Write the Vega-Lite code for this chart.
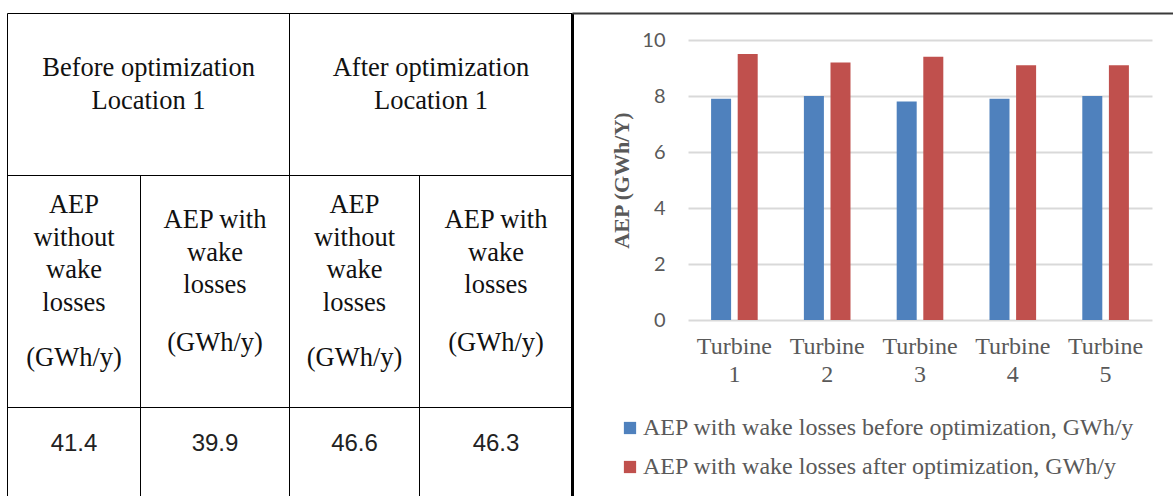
{
  "$schema": "https://vega.github.io/schema/vega-lite/v6.json",
  "width": 1173,
  "height": 496,
  "autosize": "none",
  "padding": 0,
  "background": "white",
  "config": {"view": {"stroke": null}},
  "datasets": {
    "grid": [
      {"x0": 0, "x1": 4, "y0": 0, "y1": 0},
      {"x0": 0, "x1": 4, "y0": 1, "y1": 1},
      {"x0": 0, "x1": 4, "y0": 2, "y1": 2},
      {"x0": 0, "x1": 0, "y0": 0, "y1": 3},
      {"x0": 1, "x1": 1, "y0": 1, "y1": 3},
      {"x0": 2, "x1": 2, "y0": 0, "y1": 3},
      {"x0": 3, "x1": 3, "y0": 1, "y1": 3}
    ],
    "frame": [
      {"x0": 4, "x1": 4, "y0": 0, "y1": 3}
    ],
    "chartframe": [
      {"x0": 4, "x1": 5, "y0": 0, "y1": 0}
    ],
    "headers": [
      {"text": "Before optimization\nLocation 1", "col": 1.054, "row": 0.338},
      {"text": "After optimization\nLocation 1", "col": 3.075, "row": 0.338},
      {"text": "AEP\nwithout\nwake\nlosses", "col": 0.5, "row": 1.127},
      {"text": "(GWh/y)", "col": 0.5, "row": 1.787},
      {"text": "AEP with\nwake\nlosses", "col": 1.5, "row": 1.192},
      {"text": "(GWh/y)", "col": 1.5, "row": 1.722},
      {"text": "AEP\nwithout\nwake\nlosses", "col": 2.5, "row": 1.127},
      {"text": "(GWh/y)", "col": 2.5, "row": 1.787},
      {"text": "AEP with\nwake\nlosses", "col": 3.5, "row": 1.192},
      {"text": "(GWh/y)", "col": 3.5, "row": 1.722}
    ],
    "totals": [
      {"value": "41.4", "col": 0.5, "row": 2.416},
      {"value": "39.9", "col": 1.5, "row": 2.416},
      {"value": "46.6", "col": 2.5, "row": 2.416},
      {"value": "46.3", "col": 3.5, "row": 2.416}
    ],
    "turbines": [
      {"turbine": "Turbine 1", "series": "AEP with wake losses before optimization, GWh/y", "aep": 7.9},
      {"turbine": "Turbine 1", "series": "AEP with wake losses after optimization, GWh/y", "aep": 9.5},
      {"turbine": "Turbine 2", "series": "AEP with wake losses before optimization, GWh/y", "aep": 8.0},
      {"turbine": "Turbine 2", "series": "AEP with wake losses after optimization, GWh/y", "aep": 9.2},
      {"turbine": "Turbine 3", "series": "AEP with wake losses before optimization, GWh/y", "aep": 7.8},
      {"turbine": "Turbine 3", "series": "AEP with wake losses after optimization, GWh/y", "aep": 9.4},
      {"turbine": "Turbine 4", "series": "AEP with wake losses before optimization, GWh/y", "aep": 7.9},
      {"turbine": "Turbine 4", "series": "AEP with wake losses after optimization, GWh/y", "aep": 9.1},
      {"turbine": "Turbine 5", "series": "AEP with wake losses before optimization, GWh/y", "aep": 8.0},
      {"turbine": "Turbine 5", "series": "AEP with wake losses after optimization, GWh/y", "aep": 9.1}
    ]
  },
  "layer": [
    {
      "layer": [
        {
          "data": {"name": "grid"},
          "mark": {"type": "rule", "color": "#000000", "strokeWidth": 1},
          "encoding": {
            "x": {"field": "x0", "type": "quantitative", "scale": {"domain": [0, 1, 2, 3, 4, 5], "range": [7.5, 140.5, 289.5, 419.5, 572.5, 1173], "nice": false, "zero": false}, "axis": null},
            "x2": {"field": "x1"},
            "y": {"field": "y0", "type": "quantitative", "scale": {"domain": [0, 1, 2, 3], "range": [13.5, 175.5, 407.5, 496], "nice": false, "zero": false}, "axis": null},
            "y2": {"field": "y1"}
          }
        },
        {
          "data": {"name": "frame"},
          "mark": {"type": "rule", "color": "#000000", "strokeWidth": 3},
          "encoding": {
            "x": {"field": "x0", "type": "quantitative", "axis": null},
            "x2": {"field": "x1"},
            "y": {"field": "y0", "type": "quantitative", "axis": null},
            "y2": {"field": "y1"}
          }
        },
        {
          "data": {"name": "chartframe"},
          "mark": {"type": "rule", "color": "#3a3a3a", "strokeWidth": 2},
          "encoding": {
            "x": {"field": "x0", "type": "quantitative", "axis": null},
            "x2": {"field": "x1"},
            "y": {"field": "y0", "type": "quantitative", "axis": null},
            "y2": {"field": "y1"}
          }
        },
        {
          "data": {"name": "headers"},
          "mark": {"type": "text", "font": "Liberation Serif", "fontSize": 26.5, "lineBreak": "\n", "lineHeight": 32.7, "baseline": "middle", "align": "center", "color": "#111111"},
          "encoding": {
            "x": {"field": "col", "type": "quantitative", "axis": null},
            "y": {"field": "row", "type": "quantitative", "axis": null},
            "text": {"field": "text", "type": "nominal"}
          }
        },
        {
          "data": {"name": "totals"},
          "mark": {"type": "text", "font": "Liberation Sans", "fontSize": 24, "baseline": "middle", "align": "center", "color": "#222222"},
          "encoding": {
            "x": {"field": "col", "type": "quantitative", "axis": null},
            "y": {"field": "row", "type": "quantitative", "axis": null},
            "text": {"field": "value", "type": "nominal"}
          }
        }
      ]
    },
    {
      "data": {"name": "turbines"},
      "mark": {"type": "bar"},
      "encoding": {
        "x": {
          "field": "turbine", "type": "nominal", "sort": null,
          "scale": {"range": [688, 1152], "paddingInner": 0, "paddingOuter": 0},
          "axis": {"orient": "bottom", "offset": -176, "title": null, "labelExpr": "split(datum.label, ' ')", "labelAngle": 0, "domain": false, "ticks": false, "tickSize": 0, "grid": false, "labelPadding": 14, "labelFont": "Liberation Serif", "labelFontSize": 24, "labelColor": "#595959", "labelLineHeight": 28.5}
        },
        "xOffset": {"field": "series", "type": "nominal", "sort": null, "scale": {"domain": ["AEP with wake losses before optimization, GWh/y", "AEP with wake losses after optimization, GWh/y"], "paddingInner": 0.248, "paddingOuter": 0.868}},
        "y": {
          "field": "aep", "type": "quantitative",
          "scale": {"domain": [0, 10], "range": [320, 40], "nice": false, "zero": true},
          "axis": {"orient": "left", "offset": -688, "values": [0, 2, 4, 6, 8, 10], "grid": true, "gridColor": "#d9d9d9", "gridWidth": 2, "domain": false, "ticks": false, "tickSize": 0, "labelPadding": 23, "labelFont": "Lato", "labelFontSize": 20, "labelColor": "#595959", "title": "AEP (GWh/Y)", "titleFont": "Liberation Serif", "titleFontSize": 22, "titleFontWeight": "bold", "titleColor": "#595959", "titlePadding": 8}
        },
        "color": {
          "field": "series", "type": "nominal", "sort": null,
          "scale": {"domain": ["AEP with wake losses before optimization, GWh/y", "AEP with wake losses after optimization, GWh/y"], "range": ["#4f81bd", "#c0504d"]},
          "legend": {"orient": "none", "legendX": 618, "legendY": 416, "title": null, "symbolType": "square", "symbolSize": 150, "symbolStrokeWidth": 0, "labelFont": "Liberation Serif", "labelFontSize": 24, "labelColor": "#595959", "labelOffset": 1, "rowPadding": 15, "padding": 0, "labelLimit": 600}
        }
      }
    }
  ],
  "resolve": {"scale": {"x": "independent", "y": "independent", "color": "independent"}}
}
